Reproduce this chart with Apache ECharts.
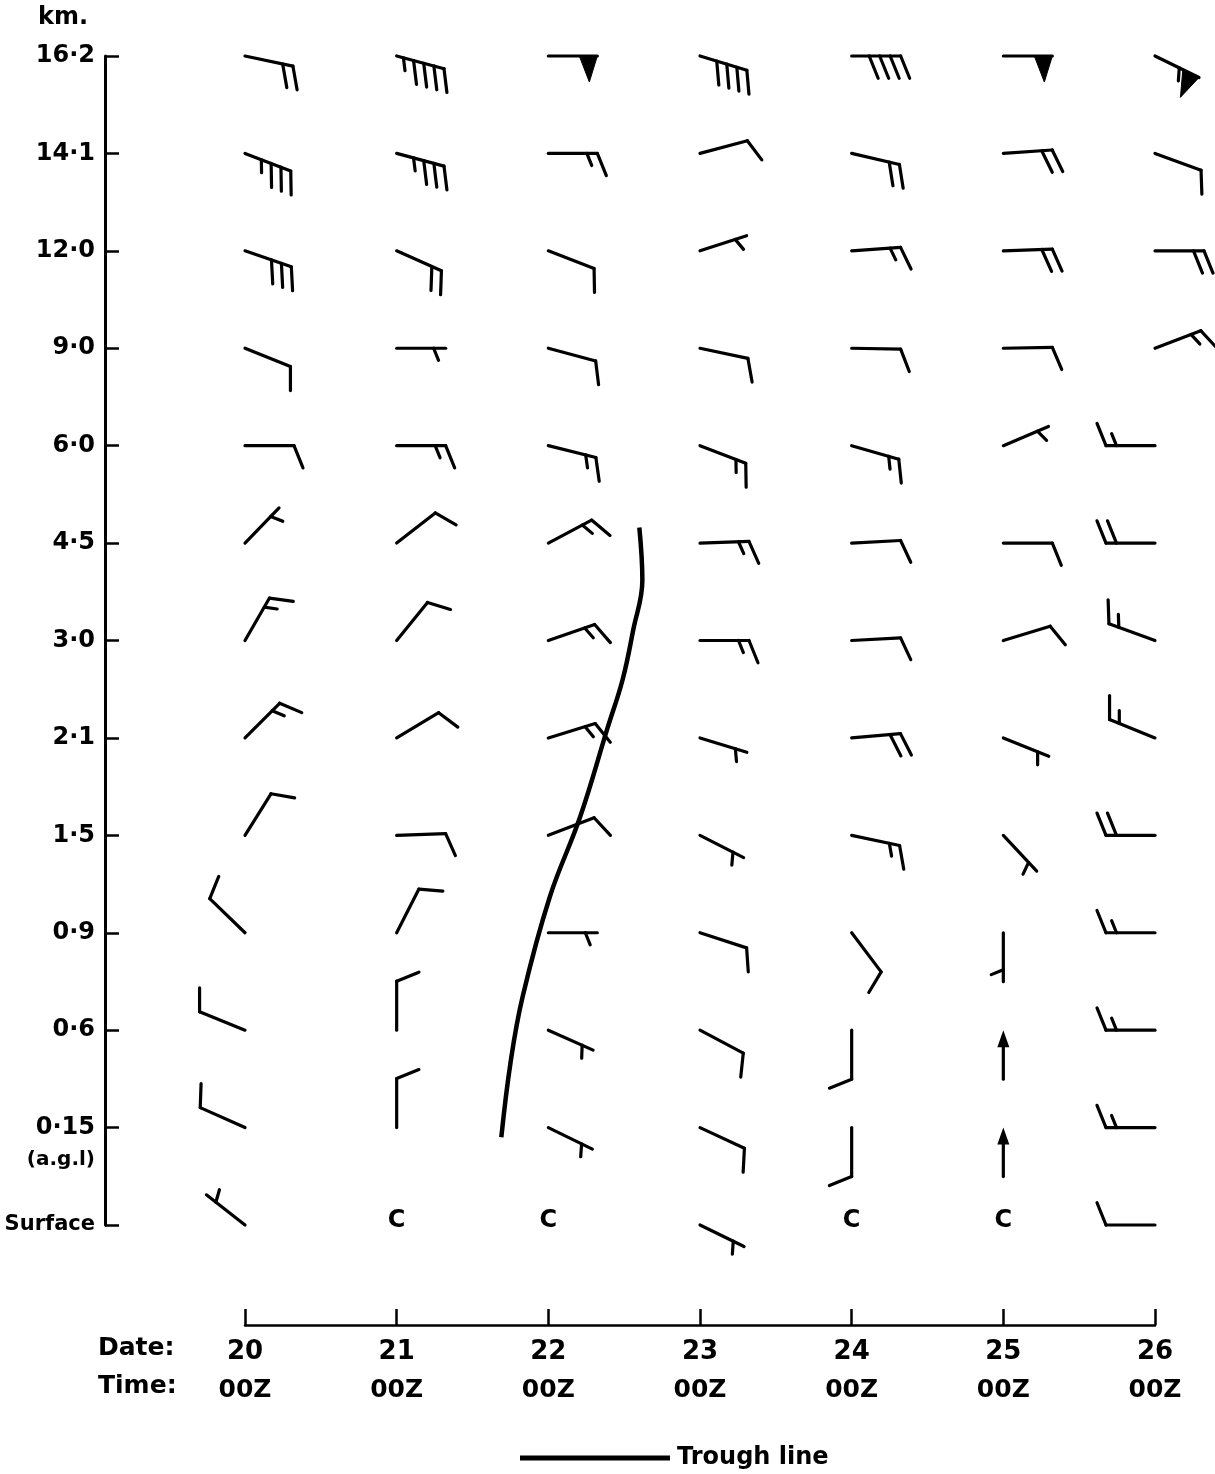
<!DOCTYPE html>
<html>
<head>
<meta charset="utf-8">
<script src="https://cdn.jsdelivr.net/npm/echarts@6/dist/echarts.min.js"></script>
<style>
  html, body { margin: 0; padding: 0; background: #fff; }
  #chart { width: 1215px; height: 1474px; }
</style>
</head>
<body>
<div id="chart"></div>
<script>
// time-height section of winds, 20-26, 00Z
const dates = [20, 21, 22, 23, 24, 25, 26]
const timeLabel = '00Z'
const levelLabels = ['Surface', '0·15', '0·6', '0·9', '1·5', '2·1', '3·0', '4·5', '6·0', '9·0', '12·0', '14·1', '16·2']
const aglNote = '(a.g.l)'

// wind direction (deg, blowing from) and speed (kt), Surface -> 16.2 km; speed 0 = calm
const dir20 = [308, 294, 292, 314, 32, 45, 30, 44, 90, 112, 109, 111, 102]
const kt20 = [5, 10, 10, 10, 10, 15, 15, 5, 10, 10, 30, 35, 20]
const dir21 = [0, 0, 0, 27, 88, 59, 39, 52, 90, 90, 114, 105, 105]
const kt21 = [0, 10, 10, 10, 10, 10, 10, 10, 15, 5, 20, 35, 45]
const dir22 = [0, 116, 114, 90, 69, 73, 71, 62, 104, 105, 111, 90, 90]
const kt22 = [0, 5, 5, 5, 10, 15, 15, 15, 15, 10, 10, 15, 50]
const dir23 = [116, 115, 118, 108, 117, 107, 90, 88, 111, 102, 72, 75, 107]
const kt23 = [5, 10, 10, 10, 5, 5, 15, 15, 15, 10, 5, 10, 40]
const dir24 = [0, 180, 180, 143, 102, 85, 87, 87, 106, 91, 86, 103, 90]
const kt24 = [0, 10, 10, 10, 15, 20, 10, 10, 15, 10, 15, 20, 40]
const dir25 = [0, 180, 180, 180, 137, 112, 73, 90, 67, 89, 88, 86, 90]
const kt25 = [0, 3, 3, 5, 5, 5, 10, 10, 5, 10, 20, 20, 50]
const dir26 = [270, 270, 270, 270, 270, 292, 290, 270, 270, 69, 90, 110, 116]
const kt26 = [10, 15, 15, 15, 20, 15, 15, 20, 15, 15, 20, 10, 55]

// trough line (date, level index)
const troughDay = [22.60, 22.62, 22.56, 22.49, 22.39, 22.21, 22.01, 21.83, 21.75, 21.69]
const troughLevel = [7.16, 6.62, 6.11, 5.60, 5.10, 4.19, 3.37, 2.34, 1.66, 0.90]

const dirs = [dir20, dir21, dir22, dir23, dir24, dir25, dir26]
const speeds = [kt20, kt21, kt22, kt23, kt24, kt25, kt26]
let windData = []
dates.forEach((d, k) => {
  levelLabels.forEach((l, i) => {
    windData.push([d, i, dirs[k][i], speeds[k][i]])
  })
})
const troughData = troughDay.map((d, i) => [d, troughLevel[i]])

const FONT = '"DejaVu Sans", sans-serif'

function renderWind(params, api) {
  const c = api.coord([api.value(0), api.value(1)])
  const dir = api.value(2)
  const kt = api.value(3)
  if (!kt) {
    return {
      type: 'text', x: c[0], y: c[1] - 4,
      style: { text: 'C', align: 'center', verticalAlign: 'middle', fontSize: 24, fontWeight: 'bold', fontFamily: FONT, fill: '#000' }
    }
  }
  const a = dir * Math.PI / 180
  const sx = Math.sin(a), sy = -Math.cos(a)
  const nx = -sy, ny = sx
  const t = 22 * Math.PI / 180
  const bx = nx * Math.cos(t) + sx * Math.sin(t)
  const by = ny * Math.cos(t) + sy * Math.sin(t)
  const at = d => [c[0] + sx * d, c[1] + sy * d]
  const ln = { stroke: '#000', lineWidth: 3.2, lineCap: 'round' }
  const L = 49
  const tip = at(L)
  let kids = []
  if (kt < 5) {
    // light wind: arrow pointing downwind into the station
    const s = at(6)
    kids.push({ type: 'line', shape: { x1: tip[0], y1: tip[1], x2: s[0], y2: s[1] }, style: ln })
    const h = at(17)
    kids.push({
      type: 'polygon',
      shape: { points: [[c[0], c[1]], [h[0] + nx * 6, h[1] + ny * 6], [h[0] - nx * 6, h[1] - ny * 6]] },
      style: { fill: '#000' }
    })
    return { type: 'group', children: kids }
  }
  kids.push({ type: 'line', shape: { x1: c[0], y1: c[1], x2: tip[0], y2: tip[1] }, style: ln })
  let n50 = Math.floor(kt / 50)
  let rest = kt - n50 * 50
  let n10 = Math.floor(rest / 10)
  let n5 = Math.round((rest - n10 * 10) / 5)
  let d = L
  for (let i = 0; i < n50; i++) {
    const p1 = at(d), p2 = at(d - 18), m = at(d - 8)
    kids.push({
      type: 'polygon',
      shape: { points: [p1, p2, [m[0] + nx * 26, m[1] + ny * 26]] },
      style: { fill: '#000', stroke: '#000', lineWidth: 1 }
    })
    d -= 22
  }
  for (let i = 0; i < n10; i++) {
    const p = at(d)
    kids.push({ type: 'line', shape: { x1: p[0], y1: p[1], x2: p[0] + bx * 24, y2: p[1] + by * 24 }, style: ln })
    d -= 10.5
  }
  if (n5) {
    if (d === L) d -= 12
    const p = at(d)
    kids.push({ type: 'line', shape: { x1: p[0], y1: p[1], x2: p[0] + bx * 13, y2: p[1] + by * 13 }, style: ln })
  }
  return { type: 'group', children: kids }
}

const chart = echarts.init(document.getElementById('chart'))
const option = {
  animation: false,
  backgroundColor: '#fff',
  grid: [
    { left: 105, right: 10, top: 56, bottom: 249 },
    { left: 245, right: 60, top: 1240, bottom: 149 }
  ],
  xAxis: [
    { gridIndex: 0, type: 'value', min: 19.0769, max: 26.3297, show: false },
    {
      gridIndex: 1, type: 'value', min: 20, max: 26, interval: 1,
      axisLine: { show: true, onZero: false, lineStyle: { color: '#000', width: 2.5 } },
      axisTick: { show: true, inside: true, length: 16, lineStyle: { color: '#000', width: 2.5 } },
      splitLine: { show: false },
      axisLabel: {
        margin: 8,
        formatter: v => '{d|' + v + '}\n{t|' + timeLabel + '}',
        rich: {
          d: { fontSize: 26, fontWeight: 'bold', fontFamily: FONT, color: '#000', lineHeight: 38 },
          t: { fontSize: 25, fontWeight: 'bold', fontFamily: FONT, color: '#000', lineHeight: 38 }
        }
      }
    }
  ],
  yAxis: [
    {
      gridIndex: 0, type: 'value', min: 0, max: 12, interval: 1,
      axisLine: { show: true, lineStyle: { color: '#000', width: 3 } },
      axisTick: { show: true, inside: true, length: 14, lineStyle: { color: '#000', width: 2.5 } },
      splitLine: { show: false },
      axisLabel: {
        margin: 10,
        formatter: v => {
          if (v === 0) return '{s|' + levelLabels[0] + '}'
          if (v === 1) return '{e| }\n{v|' + levelLabels[1] + '}\n{g|' + aglNote + '}'
          return '{v|' + levelLabels[v] + '}'
        },
        rich: {
          v: { fontSize: 24, fontWeight: 'bold', fontFamily: FONT, color: '#000', lineHeight: 32, align: 'right' },
          e: { fontSize: 20, lineHeight: 32 },
          g: { fontSize: 20, fontWeight: 'bold', fontFamily: FONT, color: '#000', lineHeight: 32, align: 'right' },
          s: { fontSize: 21, fontWeight: 'bold', fontFamily: FONT, color: '#000', align: 'right' }
        }
      }
    },
    { gridIndex: 1, type: 'value', min: 0, max: 1, show: false }
  ],
  legend: {
    data: ['Trough line'],
    left: 515, top: 1441,
    icon: 'rect', itemWidth: 150, itemHeight: 5,
    selectedMode: false,
    textStyle: { fontSize: 24, fontWeight: 'bold', fontFamily: FONT, color: '#000', padding: [0, 0, 0, 2] }
  },
  graphic: [
    { type: 'text', left: 38, top: 6, style: { text: 'km.', fontSize: 24, fontWeight: 'bold', fontFamily: FONT, fill: '#000' } },
    { type: 'text', left: 98, top: 1336, style: { text: 'Date:', fontSize: 25, fontWeight: 'bold', fontFamily: FONT, fill: '#000' } },
    { type: 'text', left: 98, top: 1374, style: { text: 'Time:', fontSize: 25, fontWeight: 'bold', fontFamily: FONT, fill: '#000' } }
  ],
  series: [
    {
      name: 'Trough line', type: 'line', xAxisIndex: 0, yAxisIndex: 0,
      data: troughData, smooth: 0.4, showSymbol: false, symbol: 'none',
      color: '#000', lineStyle: { color: '#000', width: 4.5 }, z: 2
    },
    {
      name: 'wind', type: 'custom', xAxisIndex: 0, yAxisIndex: 0,
      renderItem: renderWind, data: windData, encode: { x: 0, y: 1 }, clip: false, z: 3
    }
  ]
}
chart.setOption(option)
</script>
</body>
</html>
